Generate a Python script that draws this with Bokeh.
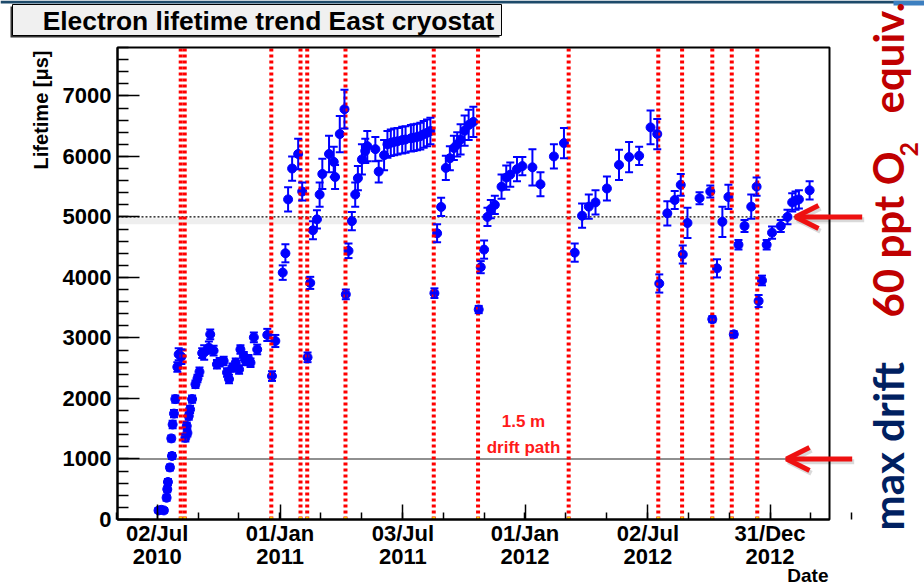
import math
import pandas as pd
from bokeh.plotting import figure
from bokeh.models import (ColumnDataSource, Range1d, FixedTicker, DatetimeTickFormatter,
                          DatetimeAxis, LinearAxis, Whisker, TeeHead, Label, Arrow,
                          OpenHead, BoxAnnotation)
from bokeh.embed import file_html
from bokeh.resources import INLINE

# ---------------------------------------------------------------- data
start_date = "2010-07-02"

# measurement day (days after start_date), electron lifetime and its error [us]
day = [2, 6, 10, 14, 15, 16, 19, 21, 22, 23, 25, 27, 30, 32, 36,
       42, 44, 45, 47, 49, 52, 57, 60, 63, 67, 70, 77, 79, 84, 89, 93, 99, 104, 107,
       112, 117, 122, 124, 129, 132, 136, 139, 144, 149, 164,
       171, 176, 187, 191, 195, 201, 210,
       216,
       224, 228, 232, 238, 242, 246, 256, 263, 265, 272, 279,
       281, 285, 290, 295, 299, 305, 310, 313, 325, 330, 338, 343, 348, 353, 358,
       365, 370, 378, 382, 387, 392, 397, 402, 407,
       413, 417, 423, 430, 436, 442, 447, 452, 458, 464, 471,
       479, 482, 487, 492, 497, 503, 513, 520, 526, 536, 544, 559, 571, 591, 606,
       622, 633, 643, 653, 670, 688, 703, 718, 735, 745,
       748, 760, 771, 780,
       783, 790, 808, 824,
       827, 834, 842, 851,
       859, 866, 875, 885, 893,
       896, 901, 908, 916, 929, 939, 946, 951, 956, 972]
lifetime = [150, 160, 150, 360, 500, 620, 860, 1340, 1050, 1570, 1750, 1990, 2520, 2730, 2690,
            1350, 1545, 1430, 1710, 1820, 1990, 2235, 2330, 2440, 2750, 2760, 2840, 3060, 2790, 2565, 2600, 2620, 2430, 2320,
            2510, 2590, 2480, 2810, 2700, 2620, 2650, 2590, 3010, 2810, 3050,
            2370, 2950, 4080, 4400, 5290, 5800, 6040,
            5420,
            2680, 3910, 4780, 4960, 5370, 5710, 6040, 5910, 5660, 6370, 6780,
            3720, 4440, 4930, 5370, 5640, 5950, 6090, 6170, 6120, 5750, 6020, 6200, 6225, 6240, 6250,
            6270, 6280, 6300, 6310, 6320, 6335, 6365, 6390, 6420,
            3740, 4730, 5165, 5810, 5970, 6140, 6200, 6280, 6425, 6520, 6570,
            3470, 4170, 4460, 5000, 5130, 5200, 5500, 5650, 5700, 5790, 5840, 5820, 5540, 6000, 6220,
            4410, 5020, 5170, 5240, 5470, 5860, 5990, 6010, 6480, 6370,
            3900, 5060, 5280, 5530,
            4380, 4900, 5310, 5420,
            3310, 4150, 4920, 5330,
            3060, 4540, 4850, 5170, 5500,
            3610, 3950, 4540, 4740, 4850, 5000, 5240, 5270, 5290, 5440]
lifetime_err = [40, 40, 40, 50, 50, 50, 50, 50, 50, 60, 60, 60, 80, 100, 120,
                60, 60, 60, 60, 60, 60, 60, 60, 70, 80, 120, 100, 80, 80, 70, 70, 70, 70, 70,
                70, 70, 70, 70, 70, 70, 70, 70, 80, 80, 100,
                80, 100, 120, 150, 200, 200, 250,
                150,
                80, 100, 150, 150, 200, 250, 300, 250, 200, 300, 320,
                80, 120, 150, 200, 200, 250, 200, 250, 200, 180, 250, 220, 220, 220, 220,
                220, 220, 220, 220, 220, 220, 220, 220, 220,
                80, 150, 150, 200, 200, 200, 200, 250, 250, 250, 250,
                60, 100, 150, 150, 150, 150, 200, 200, 200, 200, 150, 300, 200, 200, 250,
                150, 200, 200, 200, 200, 250, 250, 150, 280, 250,
                150, 200, 150, 180,
                150, 250, 100, 100,
                50, 150, 250, 200,
                50, 80, 100, 200, 150,
                100, 80, 80, 100, 100, 120, 150, 150, 150, 150]

# days (after start_date) of the recirculation stops
stop_day = [35, 41, 170, 213.5, 223.5, 280.5, 412, 478, 613, 746.5, 782, 827, 856, 894]

# reference lifetimes [us]
max_drift_lifetime = 1000
o2_equiv_lifetime = 5000

x_tick_dates = ["2010-07-02", "2011-01-01", "2011-07-03", "2012-01-01", "2012-07-02", "2012-12-31"]
y_ticks = [0, 1000, 2000, 3000, 4000, 5000, 6000, 7000]
y_minor = list(range(0, 7801, 200))

# ---------------------------------------------------------------- helpers
t0 = pd.Timestamp(start_date)


def ms_from_day(d):
    return (t0 + pd.Timedelta(days=d)).value / 1e6


def ms_from_date(s):
    return pd.Timestamp(s).value / 1e6


# page size, pad frame (pixels on the page) and the pad's data ranges
W, H = 924, 586
FL, FR, FT, FB = 117, 829, 47, 519
X0, X1 = -59.15, 1001.6
Y0, Y1 = 0, 7800
XL, XR = ms_from_day(X0), ms_from_day(X1)


def ax(px):  # page x pixel -> data x (ms)
    return ms_from_day(X0 + (px - FL) * (X1 - X0) / (FR - FL))


def ay(py):  # page y pixel -> data y
    return Y0 + (FB - py) * (Y1 - Y0) / (FB - FT)


src = ColumnDataSource(dict(
    x=[ms_from_day(d) for d in day],
    y=lifetime,
    upper=[v + e for v, e in zip(lifetime, lifetime_err)],
    lower=[v - e for v, e in zip(lifetime, lifetime_err)],
))

# the canvas is one big frame; the axes sit at fixed data locations inside it
p = figure(width=W, height=H, output_backend="svg", toolbar_location=None,
           x_range=Range1d(ax(0), ax(W)), y_range=Range1d(ay(H), ay(0)),
           x_axis_location=None, y_axis_location=None, min_border=0)
p.grid.visible = False
p.outline_line_color = None
p.background_fill_color = "white"
p.border_fill_color = "white"

AXFONT = "Liberation Sans"

majors = [ms_from_date(s) for s in x_tick_dates]
step = (majors[-1] - majors[0]) / (len(majors) - 1)
minors = [majors[0] + k * step / 3 for k in range(-1, len(majors) * 3)]
fmt = "%d/%b\n%Y"
xax = DatetimeAxis(
    fixed_location=Y0, bounds=(XL, XR),
    ticker=FixedTicker(ticks=majors, minor_ticks=minors),
    formatter=DatetimeTickFormatter(
        microseconds=fmt, milliseconds=fmt, seconds=fmt, minsec=fmt, minutes=fmt,
        hourmin=fmt, hours=fmt, days=fmt, months=fmt, years=fmt),
    major_tick_in=15, major_tick_out=0, minor_tick_in=7, minor_tick_out=0,
    major_label_standoff=1,
    major_label_text_font=AXFONT, major_label_text_font_style="bold",
    major_label_text_font_size="22px", major_label_text_line_height=0.95)
yax = LinearAxis(
    fixed_location=XL, bounds=(Y0, Y1),
    ticker=FixedTicker(ticks=y_ticks, minor_ticks=y_minor),
    major_tick_in=22, major_tick_out=0, minor_tick_in=11, minor_tick_out=0,
    major_label_standoff=6,
    major_label_text_font=AXFONT, major_label_text_font_style="bold",
    major_label_text_font_size="22px")
for a in (xax, yax):
    a.axis_line_width = 2
    a.axis_line_color = "black"
    a.major_tick_line_color = "black"
    a.minor_tick_line_color = "black"
    a.major_tick_line_width = 1.5
    a.minor_tick_line_width = 1.5
    a.major_label_text_color = "black"
p.add_layout(xax, "below")
p.add_layout(yax, "left")

# pad frame
p.add_layout(BoxAnnotation(left=XL, right=XR, bottom=Y0, top=Y1, fill_alpha=0,
                           line_color="black", line_width=2, line_alpha=1))

# reference levels
p.segment(x0=[XL], x1=[XR], y0=[o2_equiv_lifetime - 70], y1=[o2_equiv_lifetime - 70],
          line_color="#eeeeee", line_width=6)
p.segment(x0=[XL], x1=[XR], y0=[o2_equiv_lifetime], y1=[o2_equiv_lifetime],
          line_color="black", line_width=1.2, line_dash="2 2")
p.segment(x0=[XL], x1=[XR], y0=[max_drift_lifetime], y1=[max_drift_lifetime],
          line_color="#222222", line_width=1.2)

# measurements
blue = "#0000ff"
p.add_layout(Whisker(source=src, base="x", upper="upper", lower="lower",
                     line_color=blue, line_width=2, level="glyph",
                     upper_head=TeeHead(size=8, line_color=blue, line_width=2),
                     lower_head=TeeHead(size=8, line_color=blue, line_width=2)))
p.scatter("x", "y", source=src, size=9, marker="circle",
          fill_color=blue, line_color=blue)

# recirculation stops
stop_x = [ms_from_day(d) for d in stop_day]
p.segment(x0=stop_x, x1=stop_x, y0=[Y0] * len(stop_x), y1=[Y1] * len(stop_x),
          line_color="#ff0000", line_width=4, line_dash="3 3")
p.scatter(stop_x, [Y0 + 20] * len(stop_x), marker="square", size=3,
          fill_color="#ffd400", line_color=None)

# drift-path note
for txt, py in (("1.5 m", 421), ("drift path", 446.5)):
    p.add_layout(Label(x=ax(523), y=ay(py), text=txt, text_align="center",
                       text_baseline="middle", text_font=AXFONT, text_font_style="bold",
                       text_font_size="17px", text_color="#ff1a1a"))

# axis titles
p.add_layout(Label(x=ax(40), y=ay(50), text="Lifetime [\u03bcs]", angle=math.pi / 2,
                   text_align="right", text_baseline="middle", text_font=AXFONT,
                   text_font_style="bold", text_font_size="20px", text_color="black"))
p.add_layout(Label(x=ax(FR - 1), y=ay(575), text="Date", text_align="right",
                   text_baseline="middle", text_font=AXFONT, text_font_style="bold",
                   text_font_size="19px", text_color="black"))

# title box
p.add_layout(BoxAnnotation(left=ax(10), right=ax(499), top=ay(6), bottom=ay(37),
                           fill_color="#333333", fill_alpha=1, line_alpha=0))
p.add_layout(BoxAnnotation(left=ax(12), right=ax(501), top=ay(4), bottom=ay(35),
                           fill_color="#f0f0f0", fill_alpha=1, line_color="black",
                           line_width=1, line_alpha=1))
p.add_layout(Label(x=ax(268), y=ay(20), text="Electron lifetime trend East cryostat",
                   text_align="center", text_baseline="middle", text_font=AXFONT,
                   text_font_style="bold", text_font_size="26.4px", text_color="black"))

# top band
p.add_layout(BoxAnnotation(left=ax(0), right=ax(W), top=ay(0), bottom=ay(3),
                           fill_color="#1d4a6a", fill_alpha=1, line_alpha=0))
p.add_layout(BoxAnnotation(left=ax(893), right=ax(W), top=ay(0), bottom=ay(5),
                           fill_color="#3c7fc0", fill_alpha=1, line_alpha=0))

# arrows pointing at the reference levels
red = "#ee1111"
for y_ref, x_tip, x_tail in ((o2_equiv_lifetime, 795, 861.7),
                             (max_drift_lifetime, 786, 851.7)):
    p.add_layout(Arrow(x_start=ax(x_tail + 2), y_start=y_ref - 45,
                       x_end=ax(x_tip + 2), y_end=y_ref - 45,
                       line_color="#000000", line_alpha=0.15, line_width=5,
                       end=OpenHead(size=23, line_width=5, line_color="#000000",
                                    line_alpha=0.15)))
    p.add_layout(Arrow(x_start=ax(x_tail), y_start=y_ref, x_end=ax(x_tip), y_end=y_ref,
                       line_color=red, line_width=5,
                       end=OpenHead(size=23, line_width=5, line_color=red)))

# side captions (rotated, reading upwards)
SIDE = "Lato"
captions = (("max drift", 887.5, 530, "42px", "#002060"),
            ("60 ppt O", 887.5, 317, "42px", "#c00000"),
            ("2", 908, 156, "25px", "#c00000"),
            ("equiv.", 887.5, 113, "42px", "#c00000"))
for txt, px, py, size, color in captions:
    p.add_layout(Label(x=ax(px), y=ay(py), text=txt, angle=math.pi / 2,
                       text_align="left", text_baseline="alphabetic", text_font=SIDE,
                       text_font_style="bold", text_font_size=size, text_color=color))

open("out.html", "w").write(file_html(p, INLINE))
